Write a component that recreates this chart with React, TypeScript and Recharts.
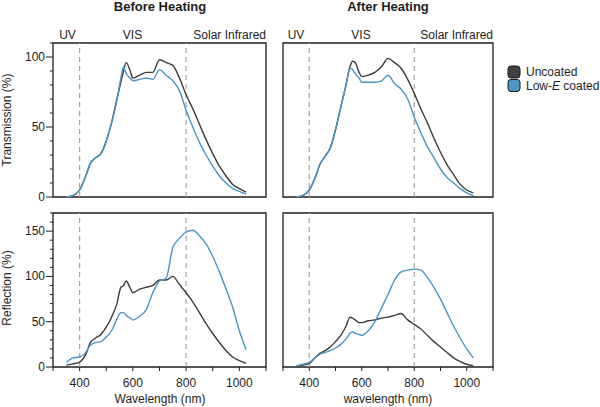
import { LineChart, Line, XAxis, YAxis, ReferenceLine, ReferenceArea } from "recharts"

const wavelength = [350, 375, 400, 425, 440, 460, 480, 500, 520, 540, 555, 565, 575, 590, 600, 625, 650, 675, 700, 725, 750, 775, 800, 825, 850, 875, 900, 925, 950, 975, 1000, 1025]

// transmission, before heating
const transBeforeUncoated = [0, 1, 5, 16, 24, 28, 31, 40, 53, 70, 82, 90, 96, 90, 85, 87, 89, 89, 98, 96, 94, 85, 73, 63, 52, 41, 31, 22, 15, 9, 6, 3.5]
const transBeforeLowE = [0, 1, 5, 16, 24, 28, 31, 40, 53, 69, 85, 93, 88, 85, 83, 84, 85, 84, 91, 87, 83, 76, 62, 50, 39, 30, 22, 15, 10, 6, 4, 2]

// transmission, after heating
const transAfterUncoated = [0, 1, 5, 15, 23, 29, 35, 48, 64, 80, 93, 97, 96, 89, 86, 87, 89, 93, 99, 96, 92, 84, 74, 63, 53, 42, 32, 23, 16, 9, 5, 3]
const transAfterLowE = [0, 1, 5, 15, 23, 29, 35, 48, 64, 80, 92, 91, 88, 85, 82, 82, 82, 83, 87, 81, 77, 70, 57, 46, 36, 28, 20, 14, 10, 6, 3, 1]

// reflection, before heating
const reflBeforeUncoated = [2, 3.5, 5.5, 15, 27, 32, 36, 44, 55, 70, 88, 90, 95, 87, 82, 86, 88, 90, 96, 96, 100, 91, 82, 72, 60, 48, 37, 27, 18, 11, 7, 4]
const reflBeforeLowE = [5, 10, 11, 17, 24, 27, 28, 33, 40, 53, 60, 60, 57, 54, 52, 56, 63, 82, 95, 98, 132, 142, 149, 151, 145, 136, 122, 105, 86, 66, 40, 19]

// reflection, after heating
const reflAfterUncoated = [1, 2, 4, 11, 15, 18, 22, 28, 35, 45, 55, 54, 52, 49, 49, 51, 52, 54, 55, 57, 59, 52, 47, 42, 35, 28, 22, 16, 10, 6, 3, 1.5]
const reflAfterLowE = [1, 3, 5, 11, 14, 16, 18, 21, 25, 31, 37, 39, 37, 36, 35, 40, 50, 65, 80, 96, 105, 107, 108, 107, 99, 88, 75, 60, 45, 32, 20, 10]

const xTicks = [300, 400, 500, 600, 700, 800, 900, 1000, 1100]
const xLabels = [400, 600, 800, 1000]
const transTicks = [0, 10, 20, 30, 40, 50, 60, 70, 80, 90, 100, 110]
const transLabels = [0, 50, 100]
const reflTicks = [0, 10, 20, 30, 40, 50, 60, 70, 80, 90, 100, 110, 120, 130, 140, 150, 160, 170]
const reflLabels = [0, 50, 100, 150]

const rows = wavelength.map((wl, i) => ({
  wl,
  tbU: transBeforeUncoated[i],
  tbL: transBeforeLowE[i],
  taU: transAfterUncoated[i],
  taL: transAfterLowE[i],
  rbU: reflBeforeUncoated[i],
  rbL: reflBeforeLowE[i],
  raU: reflAfterUncoated[i],
  raL: reflAfterLowE[i],
}))

const FONT = '"Liberation Sans", Arial, Helvetica, sans-serif'
const INK = "#1e1e1e"
const DARK = "#3c3c3c"
const BLUE = "#4a95c4"

function YTick({ x, y, payload, labels }: any) {
  const major = labels.includes(payload.value)
  return (
    <g>
      <line x1={x} x2={x - (major ? 7 : 3)} y1={y} y2={y} stroke={INK} strokeWidth={1} />
      {major && (
        <text x={x - 8} y={y + 4} textAnchor="end" fontSize={12} fontFamily={FONT} fill={INK}>
          {payload.value}
        </text>
      )}
    </g>
  )
}

function XTick({ x, y, payload }: any) {
  return (
    <g>
      <line x1={x} x2={x} y1={y} y2={y + 4} stroke={INK} strokeWidth={1} />
      {xLabels.includes(payload.value) && (
        <text x={x} y={y + 20} textAnchor="middle" fontSize={12} fontFamily={FONT} fill={INK}>
          {payload.value}
        </text>
      )}
    </g>
  )
}

function Panel({ left, top, w, h, showY, showX, yMax, yTicks, yLabels, darkKey, blueKey }: any) {
  const yw = showY ? 53 : 2
  const xh = showX ? 40 : 10
  return (
    <div style={{ position: "absolute", left: left - yw, top: top - 8 }}>
      <LineChart
        width={w + yw + 2}
        height={h + 8 + xh}
        data={rows}
        margin={{ top: 8, right: 2, left: showY ? 0 : 2, bottom: showX ? 0 : 10 }}
      >
        <XAxis
          type="number"
          dataKey="wl"
          domain={[300, 1100]}
          ticks={xTicks}
          interval={0}
          hide={!showX}
          height={40}
          axisLine={false}
          tickLine={false}
          tickSize={0}
          tickMargin={0}
          tick={<XTick />}
        />
        <YAxis
          type="number"
          domain={[0, yMax]}
          ticks={yTicks}
          interval={0}
          hide={!showY}
          width={53}
          axisLine={false}
          tickLine={false}
          tickSize={0}
          tickMargin={0}
          tick={<YTick labels={yLabels} />}
        />
        <ReferenceLine x={400} stroke="#a3a3a3" strokeDasharray="5 4" strokeWidth={1.2} />
        <ReferenceLine x={800} stroke="#a3a3a3" strokeDasharray="5 4" strokeWidth={1.2} />
        <Line type="monotone" dataKey={darkKey} stroke={DARK} strokeWidth={1.4} dot={false} isAnimationActive={false} />
        <Line type="monotone" dataKey={blueKey} stroke={BLUE} strokeWidth={1.4} dot={false} isAnimationActive={false} />
        <ReferenceArea x1={300} x2={1100} y1={0} y2={yMax} fill="none" stroke={INK} strokeWidth={1.3} />
      </LineChart>
    </div>
  )
}

export default function App() {
  return (
    <div style={{ position: "absolute", left: 0, top: 0, width: 600, height: 407, background: "#fff", fontFamily: FONT }}>
      <Panel left={53} top={43} w={213} h={154} showY showX={false} yMax={110} yTicks={transTicks} yLabels={transLabels} darkKey="tbU" blueKey="tbL" />
      <Panel left={283} top={43} w={210} h={154} showY={false} showX={false} yMax={110} yTicks={transTicks} yLabels={transLabels} darkKey="taU" blueKey="taL" />
      <Panel left={53} top={213} w={213} h={154} showY showX yMax={170} yTicks={reflTicks} yLabels={reflLabels} darkKey="rbU" blueKey="rbL" />
      <Panel left={283} top={213} w={210} h={154} showY={false} showX yMax={170} yTicks={reflTicks} yLabels={reflLabels} darkKey="raU" blueKey="raL" />

      <svg width={600} height={407} style={{ position: "absolute", left: 0, top: 0, pointerEvents: "none" }} fontFamily={FONT} fill={INK}>
        <text x={160} y={11} textAnchor="middle" fontSize={13} fontWeight="bold">Before Heating</text>
        <text x={388} y={11} textAnchor="middle" fontSize={13} fontWeight="bold">After Heating</text>

        <text x={67.5} y={38.5} textAnchor="middle" fontSize={12}>UV</text>
        <text x={132.5} y={38.5} textAnchor="middle" fontSize={12}>VIS</text>
        <text x={266} y={38.5} textAnchor="end" fontSize={12}>Solar Infrared</text>
        <text x={296} y={38.5} textAnchor="middle" fontSize={12}>UV</text>
        <text x={361} y={38.5} textAnchor="middle" fontSize={12}>VIS</text>
        <text x={493} y={38.5} textAnchor="end" fontSize={12}>Solar Infrared</text>

        <text x={11} y={120} textAnchor="middle" fontSize={12} transform="rotate(-90 11 120)">Transmission (%)</text>
        <text x={11} y={288} textAnchor="middle" fontSize={12} transform="rotate(-90 11 288)">Reflection (%)</text>
        <text x={160} y={403} textAnchor="middle" fontSize={12}>Wavelength (nm)</text>
        <text x={388} y={403} textAnchor="middle" fontSize={12}>wavelength (nm)</text>

        <rect x={508} y={66} width={12} height={12} rx={3} fill="#404040" stroke="#1a1a1a" strokeWidth={1} />
        <rect x={508} y={79.5} width={12} height={12} rx={3} fill="#4a96c8" stroke="#1a1a1a" strokeWidth={1} />
        <text x={526} y={76} fontSize={12}>Uncoated</text>
        <text x={526} y={89.5} fontSize={12}>
          Low-<tspan fontStyle="italic">E</tspan> coated
        </text>
      </svg>
    </div>
  )
}
